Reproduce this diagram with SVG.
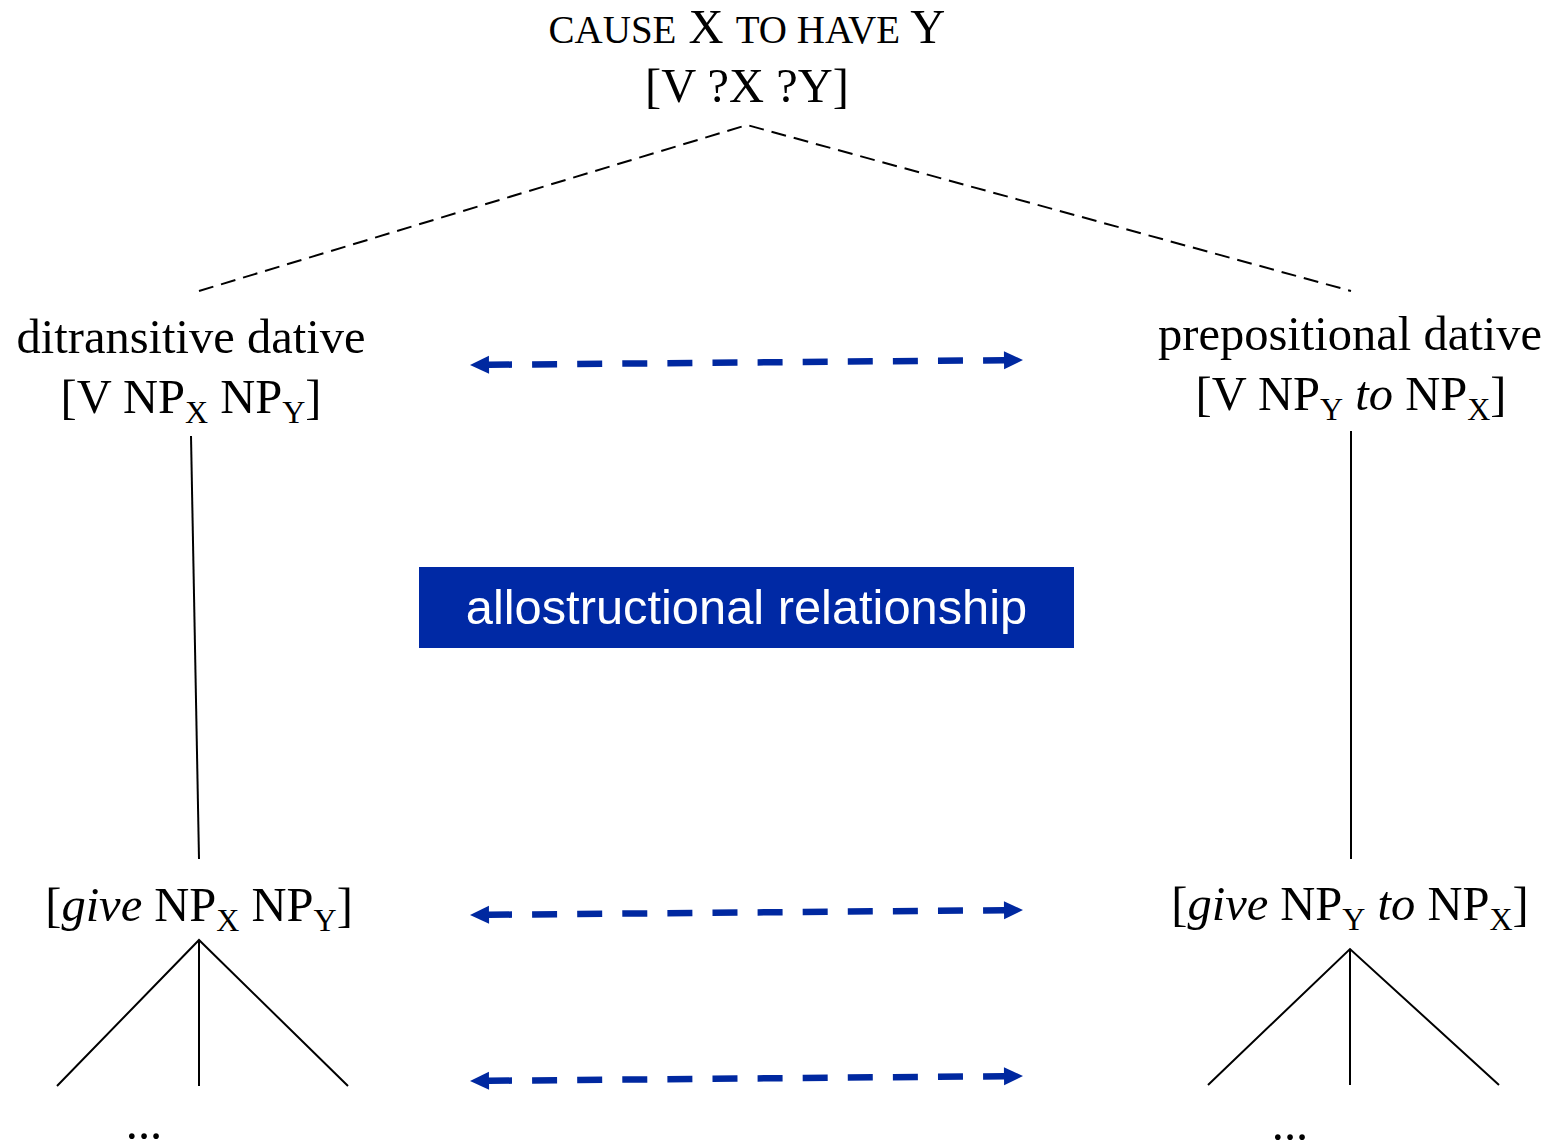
<svg xmlns="http://www.w3.org/2000/svg" width="1551" height="1141" viewBox="0 0 1551 1141">
<style>
.t{font-family:"Liberation Serif","Times New Roman",serif;font-size:48.5px;fill:#000;text-anchor:middle}
.sc{font-size:39px}
.sub{font-size:32px}
.i{font-style:italic}
.thin{stroke:#000;stroke-width:2;fill:none}
.dash{stroke:#000;stroke-width:2;fill:none;stroke-dasharray:15 8}
.blue{stroke:#0028A0;stroke-width:6.5;fill:none;stroke-dasharray:25 20.1;stroke-dashoffset:2;marker-start:url(#ah);marker-end:url(#ah)}
.box{fill:#0029A5}
.bt{font-family:"Liberation Sans",Arial,sans-serif;font-size:48.8px;fill:#fff;text-anchor:middle}
</style>
<defs>
<marker id="ah" markerUnits="userSpaceOnUse" markerWidth="20" markerHeight="20" refX="0" refY="9" orient="auto-start-reverse" overflow="visible">
<path d="M0,0 L19,9 L0,18 z" fill="#0028A0"/>
</marker>
</defs>
<g id="connectors">
<path class="dash" d="M199,291 L747,125 L1351,291"/>
<line class="thin" x1="191" y1="436" x2="199" y2="859"/>
<line class="thin" x1="1351" y1="431" x2="1351" y2="859"/>
<path class="thin" d="M57,1086 L199,940 L348,1086 M199,940 L199,1086"/>
<path class="thin" d="M1208,1085 L1350,949 L1499,1085 M1350,949 L1350,1085"/>
<line class="blue" x1="489" y1="364.8" x2="1004" y2="360.2"/>
<line class="blue" x1="489" y1="914.8" x2="1004" y2="910.2"/>
<line class="blue" x1="489" y1="1080.8" x2="1004" y2="1076.2"/>
</g>
<g id="node-top">
<text class="t" x="747" y="43"><tspan class="sc">CAUSE</tspan> X <tspan class="sc">TO HAVE</tspan> Y</text>
<text class="t" x="747" y="102">[V ?X ?Y]</text>
</g>
<g id="node-ditransitive">
<text class="t" x="191" y="353">ditransitive dative</text>
<text class="t" x="191" y="413">[V NP<tspan class="sub" dy="10">X</tspan><tspan dy="-10"> NP</tspan><tspan class="sub" dy="10">Y</tspan><tspan dy="-10">]</tspan></text>
</g>
<g id="node-prepositional">
<text class="t" x="1350" y="350">prepositional dative</text>
<text class="t" x="1351" y="410">[V NP<tspan class="sub" dy="10">Y</tspan><tspan dy="-10"> </tspan><tspan class="i">to</tspan><tspan> NP</tspan><tspan class="sub" dy="10">X</tspan><tspan dy="-10">]</tspan></text>
</g>
<g id="node-give-ditransitive">
<text class="t" x="199" y="921">[<tspan class="i">give</tspan> NP<tspan class="sub" dy="10">X</tspan><tspan dy="-10"> NP</tspan><tspan class="sub" dy="10">Y</tspan><tspan dy="-10">]</tspan></text>
<text class="t" x="144" y="1139" font-size="56">...</text>
</g>
<g id="node-give-prepositional">
<text class="t" x="1350" y="920">[<tspan class="i">give</tspan> NP<tspan class="sub" dy="10">Y</tspan><tspan dy="-10"> </tspan><tspan class="i">to</tspan><tspan> NP</tspan><tspan class="sub" dy="10">X</tspan><tspan dy="-10">]</tspan></text>
<text class="t" x="1290" y="1140" font-size="56">...</text>
</g>
<g id="node-allostructional">
<rect class="box" x="419" y="567" width="655" height="81"/>
<text class="bt" x="746.5" y="624">allostructional relationship</text>
</g>
</svg>
